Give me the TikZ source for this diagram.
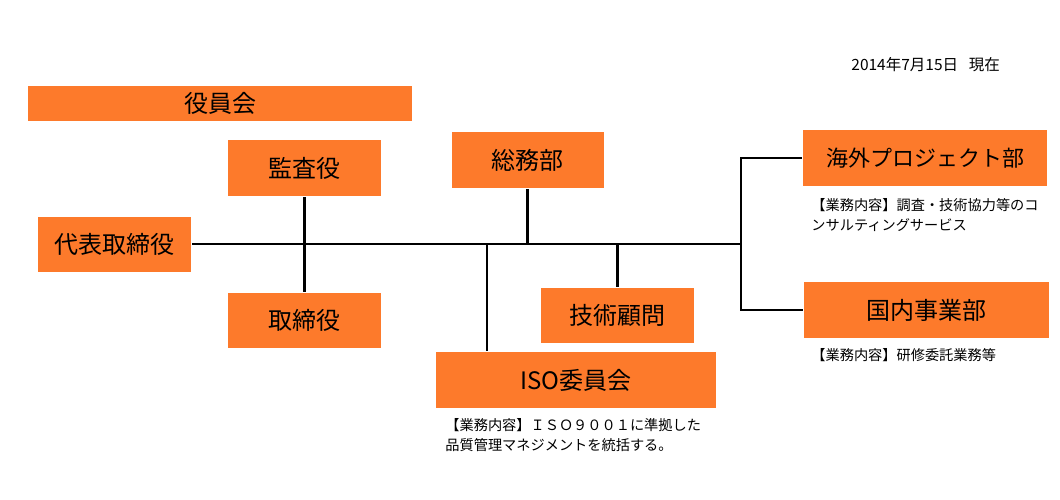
\documentclass[tikz,border=0pt]{standalone}
\usepackage{fontspec}
\setmainfont{Noto Sans CJK JP}
\usetikzlibrary{positioning}
\definecolor{boxorange}{HTML}{FD7A2B}

\begin{document}
\begin{tikzpicture}[x=1pt, y=1pt, on grid, line width=2.8pt,
    box/.style={fill=boxorange, minimum width=153pt, minimum height=55pt, inner sep=0pt, font=\fontsize{24}{28}\selectfont},
    note/.style={anchor=north west, align=left, inner sep=0pt, font=\fontsize{14.2}{20}\selectfont}]
  \useasboundingbox (0,0) rectangle (1060,-500);
  % board and top
  \node[box] (daihyo) at (114.5,-244) {代表取締役};
  \node[box, minimum width=384pt, minimum height=35pt, above right=140.5pt and 105.5pt of daihyo] (yakuin) {役員会};
  \node[box, above right=76pt and 190pt of daihyo] (kansa) {監査役};
  \node[box, below=152.5pt of kansa] (torishimari) {取締役};
  \node[box, minimum width=152pt, minimum height=56pt, above right=84pt and 413pt of daihyo] (somu) {総務部};
  \node[box, below right=71.5pt and 503pt of daihyo] (gijutsu) {技術顧問};
  \node[box, minimum width=280pt, minimum height=56pt, below right=136pt and 461.5pt of daihyo] (iso) {ISO委員会};
  \node[box, minimum width=244pt, minimum height=56pt, font=\fontsize{22}{26}\selectfont, above right=86pt and 810.5pt of daihyo] (kaigai) {海外プロジェクト部};
  \node[box, minimum width=245pt, minimum height=56pt, below right=66pt and 812pt of daihyo] (kokunai) {国内事業部};
  % notes
  \node[note, font=\fontsize{15.5}{20}\selectfont] (date) at (850,-56) {2014年7月15日\hspace{0.7em}現在};
  \node[note] (kaigainote) at (810,-197) {【業務内容】調査・技術協力等のコ\\ンサルティングサービス};
  \node[note] (kokunainote) at (810,-347) {【業務内容】研修委託業務等};
  \node[note] (isonote) at (444,-417) {【業務内容】ＩＳＯ９００１に準拠した\\品質管理マネジメントを統括する。};
  % lines
  \coordinate (busend) at (741,-244);
  \coordinate (isoj) at (487,-244);
  \draw (daihyo.east) -- (busend);
  \draw (kansa.south) -- (torishimari.north);
  \draw (somu.south) -- (somu.south |- busend);
  \draw (gijutsu.north) -- (gijutsu.north |- busend);
  \draw (isoj) -- (isoj |- iso.north);
  \draw (kaigai.west) -| (busend) |- (kokunai.west);
\end{tikzpicture}
\end{document}
